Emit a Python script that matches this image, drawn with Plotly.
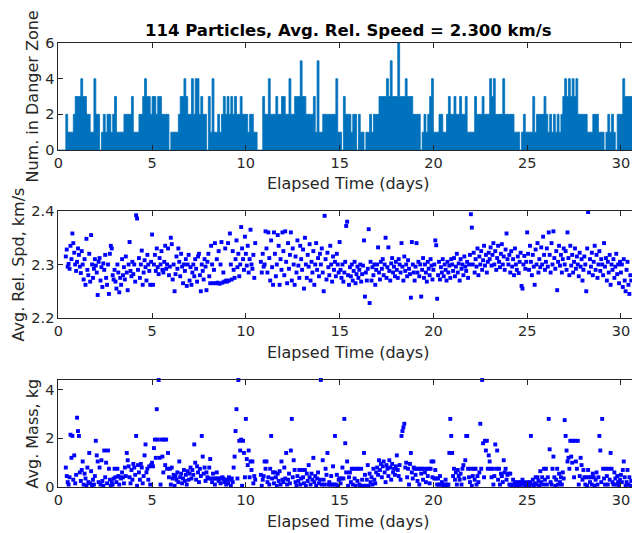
import numpy as np
import plotly.graph_objects as go

# ---------------- data ----------------
TITLE = "114 Particles, Avg. Rel. Speed = 2.300 km/s"
X_LABEL = "Elapsed Time (days)"
Y_LABELS = ["Num. in Danger Zone", "Avg. Rel. Spd, km/s", "Avg. Mass, kg"]
X_TICKS = [0, 5, 10, 15, 20, 25, 30]
COUNT_TICKS = [0, 2, 4, 6]
SPEED_TICKS = [2.2, 2.3, 2.4]
MASS_TICKS = [0, 2, 4]

COUNT_STEP = 0.1     # days between count samples
SAMPLE_STEP = 0.05   # days between speed / mass samples

# number of particles in danger zone, one digit per 0.1 day (one line per day)
count_digits = (
    "0000211123" "3343322114" "2201212212" "3111122223" "1112234332"
    "3323322220" "1111233432" "2424423220" "3141121232" "3232322322"
    "2122110003" "2242223223" "3224223335" "3322223151" "1222222241"
    "1032221220" "2110112122" "2333343533" "3633343332" "2220121234"
    "1112211232" "2322322311" "1132223222" "4342222422" "2221110121"
    "1113122223" "2121212123" "4343434222" "2211122211" "1012121022"
    "243333"
)
danger_count = [int(c) for c in count_digits]

N = None
avg_rel_speed = [
    N, N, N, N, N, N, N, N, 2.315, 2.328, 2.296, 2.301, 2.292, 2.335, 2.310, 2.358, 2.340, 2.322, 2.300, 2.288,
    2.305, 2.330, 2.318, 2.296, 2.284, 2.325, 2.300, 2.272, 2.310, 2.262, 2.348, 2.290, 2.280, 2.320, 2.268, 2.355, 2.300, 2.275, 2.292, 2.310,
    2.298, 2.285, 2.243, 2.305, 2.312, 2.270, 2.295, 2.258, 2.302, 2.290, 2.318, 2.275, 2.262, 2.300, 2.245, 2.320, 2.335, 2.330, 2.280, 2.272,
    2.290, 2.268, 2.255, 2.300, 2.285, 2.248, 2.275, 2.262, 2.310, 2.280, 2.295, 2.272, 2.315, 2.285, 2.252, 2.300, 2.342, 2.288, 2.278, 2.305,
    2.282, 2.300, 2.268, 2.392, 2.386, 2.290, 2.312, 2.275, 2.300, 2.326, 2.262, 2.285, 2.308, 2.295, 2.270, 2.318, 2.300, 2.288, 2.262, 2.305,
    2.356, 2.262, 2.300, 2.318, 2.288, 2.330, 2.295, 2.282, 2.312, 2.300, 2.325, 2.290, 2.285, 2.305, 2.335, 2.292, 2.300, 2.330, 2.280, 2.296,
    2.350, 2.338, 2.272, 2.300, 2.250, 2.282, 2.315, 2.292, 2.330, 2.305, 2.278, 2.320, 2.296, 2.265, 2.300, 2.288, 2.310, 2.260, 2.300, 2.318,
    2.270, 2.295, 2.262, 2.285, 2.300, 2.278, 2.310, 2.292, 2.268, 2.315, 2.320, 2.280, 2.250, 2.300, 2.288, 2.272, 2.310, 2.296, 2.252, 2.305,
    2.320, 2.278, 2.265, 2.335, 2.300, 2.265, 2.290, 2.340, 2.265, 2.310, 2.266, 2.325, 2.264, 2.300, 2.342, 2.266, 2.285, 2.268, 2.330, 2.270,
    2.268, 2.340, 2.270, 2.358, 2.300, 2.272, 2.325, 2.290, 2.275, 2.310, 2.345, 2.295, 2.320, 2.278, 2.300, 2.370, 2.330, 2.310, 2.290, 2.352,
    2.320, 2.298, 2.335, 2.285, 2.310, 2.365, 2.300, 2.292, 2.318, 2.275, 2.340, N, N, N, N, N, 2.305, 2.285, 2.320, 2.296,
    2.300, 2.362, 2.330, 2.285, 2.360, 2.312, 2.270, 2.345, 2.295, 2.262, 2.360, 2.320, 2.278, 2.300, 2.355, 2.335, 2.262, 2.310, 2.290, 2.360,
    2.325, 2.280, 2.362, 2.305, 2.265, 2.340, 2.292, 2.318, 2.360, 2.270, 2.330, 2.300, 2.262, 2.315, 2.285, 2.345, 2.298, 2.275, 2.335, 2.310,
    2.290, 2.328, 2.255, 2.350, 2.300, 2.275, 2.318, 2.296, 2.338, 2.270, 2.305, 2.285, 2.325, 2.262, 2.300, 2.340, 2.290, 2.312, 2.278, 2.320,
    2.300, 2.330, 2.285, 2.250, 2.391, 2.310, 2.272, 2.322, 2.295, 2.280, 2.335, 2.300, 2.268, 2.315, 2.290, 2.305, 2.278, 2.320, 2.300, 2.285,
    2.342, 2.290, 2.275, 2.300, 2.268, 2.285, 2.305, 2.372, 2.380, 2.280, 2.262, 2.295, 2.278, 2.300, 2.270, 2.288, 2.305, 2.265, 2.282, 2.296,
    2.275, 2.290, 2.300, 2.268, 2.282, 2.298, 2.345, 2.240, 2.285, 2.270, 2.292, 2.366, 2.228, 2.305, 2.270, 2.295, 2.280, 2.300, 2.262, 2.290,
    2.300, 2.332, 2.285, 2.272, 2.305, 2.292, 2.310, 2.280, 2.300, 2.350, 2.275, 2.295, 2.332, 2.288, 2.270, 2.302, 2.312, 2.285, 2.296, 2.278,
    2.305, 2.290, 2.275, 2.310, 2.300, 2.285, 2.340, 2.296, 2.270, 2.315, 2.288, 2.300, 2.278, 2.308, 2.292, 2.282, 2.238, 2.342, 2.300, 2.285,
    2.270, 2.296, 2.340, 2.285, 2.305, 2.278, 2.300, 2.240, 2.290, 2.312, 2.275, 2.300, 2.285, 2.268, 2.305, 2.292, 2.280, 2.310, 2.298, 2.272,
    2.290, 2.300, 2.345, 2.336, 2.236, 2.280, 2.305, 2.272, 2.295, 2.285, 2.310, 2.278, 2.300, 2.290, 2.270, 2.305, 2.285, 2.298, 2.275, 2.310,
    2.300, 2.288, 2.312, 2.278, 2.296, 2.320, 2.285, 2.302, 2.270, 2.310, 2.292, 2.300, 2.280, 2.315, 2.296, 2.288, 2.305, 2.275, 2.300, 2.318,
    2.394, 2.369, 2.300, 2.322, 2.285, 2.310, 2.296, 2.330, 2.280, 2.315, 2.300, 2.325, 2.290, 2.308, 2.335, 2.298, 2.318, 2.285, 2.305, 2.322,
    2.310, 2.332, 2.298, 2.318, 2.340, 2.300, 2.325, 2.290, 2.312, 2.335, 2.305, 2.295, 2.320, 2.338, 2.300, 2.315, 2.290, 2.328, 2.358, 2.310,
    2.300, 2.318, 2.285, 2.325, 2.296, 2.310, 2.280, 2.330, 2.300, 2.290, 2.315, 2.284, 2.305, 2.322, 2.260, 2.255, 2.300, 2.316, 2.292, 2.305,
    2.360, 2.320, 2.290, 2.335, 2.305, 2.280, 2.318, 2.296, 2.262, 2.328, 2.300, 2.340, 2.285, 2.310, 2.295, 2.332, 2.300, 2.352, 2.318, 2.290,
    2.305, 2.330, 2.296, 2.360, 2.318, 2.285, 2.340, 2.300, 2.362, 2.312, 2.292, 2.325, 2.252, 2.305, 2.335, 2.298, 2.318, 2.285, 2.310, 2.330,
    2.300, 2.325, 2.290, 2.360, 2.312, 2.280, 2.335, 2.298, 2.318, 2.285, 2.305, 2.330, 2.292, 2.315, 2.300, 2.278, 2.322, 2.296, 2.310, 2.270,
    2.290, 2.315, 2.300, 2.250, 2.330, 2.398, 2.285, 2.310, 2.296, 2.322, 2.280, 2.305, 2.335, 2.290, 2.318, 2.275, 2.300, 2.325, 2.288, 2.310,
    2.300, 2.280, 2.340, 2.296, 2.312, 2.270, 2.305, 2.285, 2.318, 2.262, 2.300, 2.290, 2.310, 2.275, 2.296, 2.320, 2.282, 2.300, 2.265, 2.305,
    2.285, 2.300, 2.258, 2.310, 2.270, 2.250, 2.290, 2.305, 2.262, 2.245, 2.280, 2.270,
]

avg_mass = [
    N, N, N, N, N, N, N, N, 0.80, 0.45, 0.20, 0.10, 0.40, 2.15, 1.20, 2.10, 0.30, 1.30, 0.15, 0.50,
    2.85, 2.30, 2.10, 0.60, 0.25, 0.70, 1.05, 0.10, 0.55, 0.35, 0.05, 0.80, 0.20, 1.40, 0.15, 0.65, 0.05, 0.30, 0.10, 0.45,
    1.90, 1.30, 1.05, 0.20, 0.80, 0.10, 1.10, 0.25, 0.05, 1.50, 0.40, 1.00, 0.15, 1.50, 0.75, 0.30, 0.05, 0.20, 0.10, 0.35,
    0.75, 0.40, 0.20, 0.75, 0.45, 0.10, 0.40, 0.35, 0.60, 0.40, 0.15, 0.80, 0.45, 1.40, 1.10, 0.85, 0.40, 0.15, 0.70, 0.30,
    0.95, 0.80, 0.50, 2.10, 0.05, 0.90, 0.60, 0.30, 0.95, 0.80, 0.15, 0.45, 1.30, 1.75, 0.60, 0.75, 0.30, 0.85, 0.10, 0.90,
    1.00, 0.85, 1.60, 1.95, 1.20, 3.20, 1.95, 4.40, 1.20, 0.10, 1.95, 1.25, 0.60, 1.95, 0.90, 1.95, 0.75, 1.40, 0.40, 0.75,
    0.10, 0.80, 0.35, 0.50, 0.05, 0.45, 0.30, 0.60, 0.20, 1.05, 0.40, 0.55, 0.15, 0.35, 0.70, 0.25, 0.50, 0.10, 0.65, 0.30,
    0.55, 0.80, 0.35, 0.70, 0.50, 1.75, 1.00, 0.30, 0.85, 0.60, 0.20, 0.75, 0.45, 2.10, 1.25, 0.55, 0.80, 0.25, 0.60, 0.40,
    0.35, 0.80, 1.15, 0.35, 0.20, 0.55, 0.35, 0.10, 0.35, 0.60, 0.35, 0.25, 0.35, 0.15, 0.35, 0.40, 0.35, 0.20, 0.30, 0.10,
    0.30, 0.15, 0.40, 0.30, 0.05, 0.35, 0.20, 0.80, 1.25, 2.30, 3.20, 0.35, 4.40, 1.90, 1.50, 1.95, 0.05, 1.90, 1.40, 0.40,
    2.80, 1.15, 0.90, 1.50, 0.40, 1.05, 0.70, 1.05, 0.15, 0.45, 0.30, N, N, N, N, N, 0.50, 0.05, 0.30, 0.45,
    1.05, 0.75, 1.05, 0.20, 0.40, 0.10, 0.75, 2.10, 0.35, 0.60, 0.15, 0.60, 0.40, 0.05, 0.55, 0.25, 0.65, 0.10, 1.05, 0.30,
    0.20, 0.80, 0.35, 1.40, 0.10, 0.30, 0.55, 0.15, 1.50, 2.80, 0.40, 1.10, 0.70, 0.20, 0.05, 0.45, 0.25, 0.70, 0.10, 0.35,
    0.70, 0.40, 0.15, 0.70, 0.05, 0.55, 0.25, 0.90, 0.40, 0.10, 0.55, 0.30, 1.20, 0.20, 0.45, 0.05, 0.35, 0.60, 0.15, 0.30,
    4.40, 0.10, 1.10, 0.30, 0.10, 0.75, 0.50, 1.40, 0.10, 0.20, 0.10, 0.45, 0.10, 0.85, 0.10, 2.10, 0.10, 0.50, 0.05, 0.30,
    0.35, 0.15, 0.35, 0.80, 0.35, 2.80, 1.80, 0.60, 1.05, 0.05, 0.40, 0.60, 0.20, 0.75, 0.10, 0.75, 0.35, 0.05, 0.75, 0.25,
    0.75, 0.10, 0.05, 0.75, 0.30, 0.05, 1.40, 0.50, 0.05, 0.30, 0.90, 0.05, 0.55, 0.20, 0.40, 0.10, 0.75, 0.30, 0.15, 0.60,
    0.80, 0.50, 1.10, 0.70, 0.95, 0.40, 0.85, 1.05, 0.60, 0.20, 0.90, 0.75, 0.45, 1.10, 0.80, 0.30, 0.95, 0.60, 0.75, 0.50,
    0.85, 1.30, 0.70, 0.45, 0.90, 0.30, 2.10, 2.30, 2.45, 2.60, 0.80, 1.00, 0.40, 0.75, 0.10, 0.95, 1.40, 0.60, 0.35, 0.80,
    0.75, 0.50, 0.75, 0.25, 0.75, 0.10, 0.75, 0.55, 0.75, 0.30, 0.75, 0.60, 0.20, 0.75, 0.45, 0.75, 0.15, 0.75, 1.05, 0.40,
    1.05, 0.35, 0.70, 0.35, 0.10, 0.35, 0.10, 0.45, 0.10, 0.20, 0.10, 0.05, 0.10, 0.30, 0.10, 0.05, 0.10, 1.40, 2.80, 2.10,
    1.40, 0.45, 0.75, 0.30, 0.60, 0.10, 0.70, 0.45, 0.30, 0.55, 0.10, 0.75, 0.90, 0.35, 1.10, 2.10, 2.10, 0.75, 0.40, 0.20,
    0.75, 0.05, 0.45, 0.75, 0.30, 0.75, 0.10, 0.45, 0.20, 0.60, 2.60, 0.75, 4.40, 1.80, 0.40, 1.90, 1.50, 1.90, 0.75, 1.30,
    1.05, 0.75, 0.40, 0.75, 0.10, 0.45, 1.75, 0.75, 1.50, 0.30, 0.75, 0.10, 0.55, 0.45, 0.20, 1.10, 0.60, 0.75, 0.30, 0.50,
    0.55, 0.10, 0.55, 0.05, 0.10, 0.30, 0.10, 0.20, 0.05, 0.10, 0.20, 0.10, 0.05, 0.20, 0.10, 0.30, 0.20, 0.10, 0.05, 0.15,
    0.20, 0.10, 0.05, 0.20, 2.10, 0.10, 0.30, 0.05, 0.15, 0.40, 0.10, 0.40, 0.25, 0.05, 0.65, 0.20, 0.40, 0.10, 0.75, 0.30,
    0.75, 0.10, 0.40, 2.80, 1.55, 0.20, 0.10, 0.75, 1.25, 0.40, 0.05, 0.30, 0.75, 0.10, 0.55, 0.20, 0.40, 0.10, 0.60, 0.35,
    2.75, 2.10, 1.50, 1.05, 1.20, 0.75, 1.90, 1.25, 1.00, 1.90, 0.40, 1.90, 1.05, 0.75, 1.90, 0.10, 0.45, 1.20, 0.90, 0.30,
    0.70, 0.40, 0.10, 0.40, 0.05, 0.70, 0.40, 0.20, 0.40, 0.10, 0.55, 0.40, 0.05, 0.30, 0.60, 0.10, 0.40, 2.10, 1.50, 0.20,
    2.80, 0.75, 0.35, 0.10, 0.75, 0.45, 0.10, 0.75, 0.30, 1.40, 0.75, 0.20, 0.10, 0.60, 0.35, 0.10, 0.45, 0.20, 0.05, 0.30,
    0.50, 0.20, 0.70, 1.05, 0.40, 0.05, 0.20, 0.70, 0.10, 0.40, 0.05, 0.25,
]

# ---------------- figure ----------------
W, H = 632, 533
AX_COLOR = "rgb(38,38,38)"
LINE_BLUE = "#0072BD"
DOT_BLUE = "rgb(0,0,255)"
FONT = "DejaVu Sans"

X0_PX = 58.3
X_RANGE = [0, 30.59]
panels_px = [(43, 150), (211, 318), (380, 487)]  # (top, bottom) pixel rows


def px_x(p):
    return p / W


def px_y(p):
    return 1 - p / H


count_t = np.arange(len(danger_count)) * COUNT_STEP
count_x = np.append(count_t, count_t[-1] + COUNT_STEP)
count_y = danger_count + [danger_count[-1]]
sample_t = np.arange(len(avg_rel_speed)) * SAMPLE_STEP
mass_t = np.arange(len(avg_mass)) * SAMPLE_STEP

fig = go.Figure()
fig.add_trace(go.Scatter(
    x=count_x, y=count_y, mode="lines", line=dict(color=LINE_BLUE, width=0.8, shape="hv"),
    fill="tozeroy", fillcolor=LINE_BLUE, xaxis="x", yaxis="y", showlegend=False, hoverinfo="skip"))
fig.add_trace(go.Scatter(
    x=sample_t, y=avg_rel_speed, mode="markers",
    marker=dict(symbol="square", size=3.9, color=DOT_BLUE, line=dict(width=0)),
    xaxis="x2", yaxis="y2", showlegend=False, cliponaxis=False))
fig.add_trace(go.Scatter(
    x=mass_t, y=avg_mass, mode="markers",
    marker=dict(symbol="square", size=3.9, color=DOT_BLUE, line=dict(width=0)),
    xaxis="x3", yaxis="y3", showlegend=False, cliponaxis=False))

tick_font = dict(family=FONT, size=14.5, color=AX_COLOR)
xdom = [px_x(X0_PX), 1]
common_x = dict(range=X_RANGE, tickvals=X_TICKS, ticks="inside", ticklen=5, tickcolor=AX_COLOR,
                showline=True, linecolor=AX_COLOR, linewidth=1, mirror="ticks",
                showgrid=False, zeroline=False, tickfont=tick_font, domain=xdom,
                fixedrange=True, automargin=False)
common_y = dict(ticks="inside", ticklen=5, tickcolor=AX_COLOR, showline=True, linecolor=AX_COLOR,
                linewidth=1, mirror=False, showgrid=False, zeroline=False, tickfont=tick_font,
                fixedrange=True, automargin=False)

ydoms = [[px_y(b), px_y(t)] for (t, b) in panels_px]

fig.update_layout(
    width=W, height=H, margin=dict(l=0, r=0, t=0, b=0, pad=0, autoexpand=False),
    paper_bgcolor="white", plot_bgcolor="white",
    xaxis=dict(common_x, anchor="y"),
    yaxis=dict(common_y, domain=ydoms[0], range=[0, 6], tickvals=COUNT_TICKS, anchor="x"),
    xaxis2=dict(common_x, anchor="y2"),
    yaxis2=dict(common_y, domain=ydoms[1], range=[2.2, 2.4], tickvals=SPEED_TICKS,
                tickformat=".1f", anchor="x2"),
    xaxis3=dict(common_x, anchor="y3"),
    yaxis3=dict(common_y, domain=ydoms[2], range=[0, 4.4], tickvals=MASS_TICKS, anchor="x3"),
)

label_font = dict(family=FONT, size=16, color=AX_COLOR)
annotations = [
    dict(text="<b>" + TITLE + "</b>", x=px_x(348), y=px_y(31), xref="paper", yref="paper",
         showarrow=False, xanchor="center", yanchor="middle",
         font=dict(family=FONT, size=16.5, color="black")),
]
for yc in (183, 352, 521):
    annotations.append(dict(text=X_LABEL, x=px_x(348), y=px_y(yc), xref="paper", yref="paper",
                            showarrow=False, xanchor="center", yanchor="middle", font=label_font))
for lab, xc, (t, b) in zip(Y_LABELS, (32, 18, 32), panels_px):
    annotations.append(dict(text=lab, x=px_x(xc), y=px_y((t + b) / 2), xref="paper", yref="paper",
                            showarrow=False, xanchor="center", yanchor="middle", textangle=-90,
                            font=label_font))
fig.update_layout(annotations=annotations)

fig.write_html(
    "out.html",
    config={"displayModeBar": False, "staticPlot": True},
    post_script="document.body.style.margin='0px';document.body.style.overflow='hidden';",
)
